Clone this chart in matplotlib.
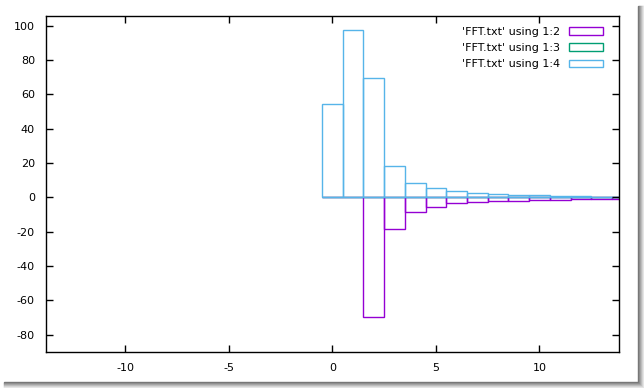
import numpy as np
import matplotlib
matplotlib.use("Agg")
import matplotlib.pyplot as plt
from matplotlib.patches import Rectangle

plt.rcParams["axes.unicode_minus"] = False

# frequency bins (column 1) and the three columns plotted from FFT.txt
freq = [0, 1, 2, 3, 4, 5, 6, 7, 8, 9, 10, 11, 12, 13, 14]
col2 = [0, 0, -69.4, -18.1, -8.7, -5.3, -3.5, -2.9, -2.0, -1.9, -1.4, -1.3, -1.1, -0.7, -0.6]
col3 = [0, 0, 0, 0, 0, 0, 0, 0, 0, 0, 0, 0, 0, 0, 0]  # hidden under the 1:4 boxes
col4 = [54.3, 97.5, 69.5, 18.3, 8.7, 5.3, 3.5, 2.4, 1.8, 1.7, 1.2, 1.1, 0.6, 0.5, 0.5]
labels = ["'FFT.txt' using 1:2", "'FFT.txt' using 1:3", "'FFT.txt' using 1:4"]
colors = ["#9400d3", "#009e73", "#56b4e9"]

fig = plt.figure(figsize=(6.44, 3.88), dpi=100)
ax = fig.add_axes([46 / 644, 36 / 388, 573 / 644, 336 / 388])

handles = []
for vals, lab, col in zip([col2, col3, col4], labels, colors):
    ax.bar(freq, vals, width=1.0, fill=False, edgecolor=col, linewidth=1.0)
    handles.append(Rectangle((0, 0), 1, 1, fill=False, edgecolor=col, linewidth=1.0))

ax.set_xlim(-13.83, 13.84)
ax.set_ylim(-90, 105.7)
ax.set_xticks([-10, -5, 0, 5, 10])
ax.set_yticks(np.arange(-80, 101, 20))
ax.tick_params(direction="in", length=5, width=1, top=True, right=True,
               labelsize=8, pad=8)
for s in ax.spines.values():
    s.set_linewidth(1)

ax.legend(handles, labels, loc="upper right", frameon=False, markerfirst=False,
          fontsize=8, handlelength=3.0, handleheight=0.7, labelspacing=0.55,
          handletextpad=0.8, borderaxespad=0.3, bbox_to_anchor=(0.985, 0.99))

# drop shadow along the right and bottom edges
for i in range(6):
    g = 0.45 + i * 0.09
    fig.patches.append(Rectangle(((638 + i) / 644, 0), 1 / 644, 382 / 388,
                                 transform=fig.transFigure, color=str(g), zorder=-1))
    fig.patches.append(Rectangle((4 / 644, (5 - i) / 388), 638 / 644, 1 / 388,
                                 transform=fig.transFigure, color=str(g), zorder=-1))

fig.savefig("out.png", dpi=100)
